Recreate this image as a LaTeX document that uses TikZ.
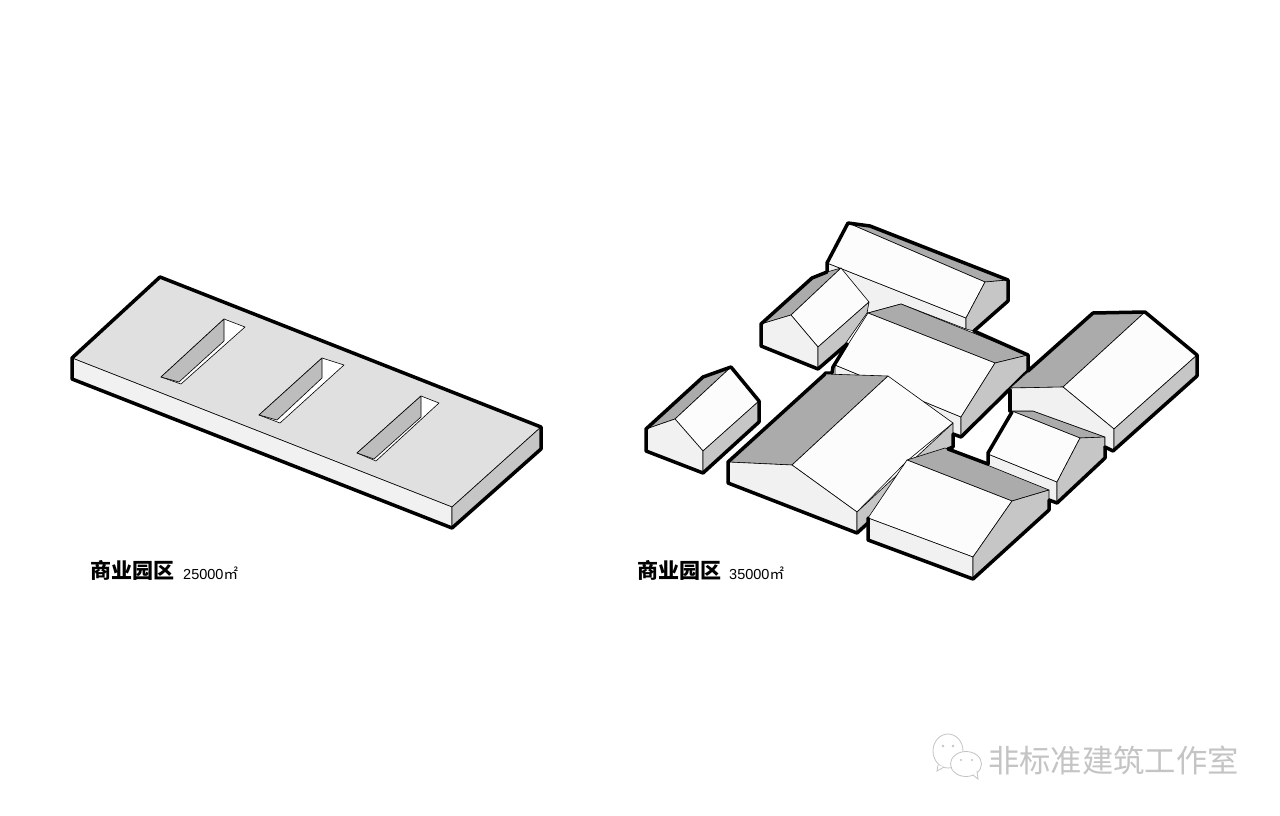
\documentclass[tikz,border=0pt]{standalone}
\usepackage{fontspec}
\usepackage{xcolor}
\usepackage{tikz}
\setmainfont{Liberation Sans}
\newfontfamily\cjk{Noto Sans CJK SC}
\definecolor{topgray}{HTML}{E0E0E0}
\definecolor{sidegray}{HTML}{C6C6C6}
\definecolor{darkgray}{HTML}{ABABAB}
\definecolor{wallgray}{HTML}{BDBDBD}
\definecolor{frontgray}{HTML}{F1F1F1}
\definecolor{roofwhite}{HTML}{FCFCFC}
\definecolor{markgray}{HTML}{C4C4C4}
\tikzset{
face/.style={draw=black,line width=0.6pt,line join=round},
heavy/.style={draw=black,line width=3.5pt,line join=round,line cap=round},
titlelabel/.style={anchor=west,inner sep=0pt,font=\cjk\bfseries\fontsize{21}{21}\selectfont},
arealabel/.style={anchor=west,inner sep=0pt,font=\fontsize{14.5}{14.5}\selectfont},
bubble/.style={draw=markgray,fill=white,line width=0.8pt},
}
\begin{document}
\begin{tikzpicture}[x=1pt,y=-1pt]
\useasboundingbox (0,0) rectangle (1280,816);
\fill[white](0,0) rectangle (1280,816);
\filldraw[face,fill=topgray](160,277)--(541,427)--(452,507)--(72,358)--cycle;
\filldraw[face,fill=frontgray](72,358)--(452,507)--(452,528)--(72,379)--cycle;
\filldraw[face,fill=sidegray](452,507)--(541,427)--(541,449)--(452,528)--cycle;
\draw[heavy](72,358)--(160,277)--(541,427)--(541,449)--(452,528)--(72,379)--cycle;
\filldraw[face,fill=white](224,319)--(245,327)--(181,384)--(161,377)--cycle;
\filldraw[face,fill=wallgray](224,319)--(224,341)--(179,382)--(161,377)--cycle;
\filldraw[face,fill=white](322,358)--(344,365)--(280,423)--(259,415)--cycle;
\filldraw[face,fill=wallgray](322,358)--(322,378)--(277,420)--(259,415)--cycle;
\filldraw[face,fill=white](421,396)--(439,403)--(376,461)--(357,453)--cycle;
\filldraw[face,fill=wallgray](421,396)--(421,417)--(374,459)--(357,453)--cycle;
\filldraw[face,fill=frontgray](827,263)--(966,318)--(966,329)--(901,304)--(868,313)--(827,272)--cycle;
\filldraw[face,fill=darkgray](848,223)--(870,226)--(1008,280)--(985,282)--cycle;
\filldraw[face,fill=roofwhite](848,223)--(985,282)--(966,318)--(827,263)--cycle;
\filldraw[face,fill=sidegray](985,282)--(1008,280)--(1008,301)--(974,331)--(966,329)--(966,318)--cycle;
\draw[heavy](827,272)--(827,263)--(848,223)--(870,226)--(1008,280)--(1008,301)--(974,331);
\filldraw[face,fill=frontgray](835,365)--(961,417)--(961,437)--(953,434)--(835,374)--cycle;
\filldraw[face,fill=darkgray](901,304)--(1028,355)--(995,363)--(868,313)--cycle;
\filldraw[face,fill=roofwhite](868,313)--(995,363)--(961,417)--(835,365)--cycle;
\filldraw[face,fill=sidegray](995,363)--(1028,355)--(1028,371)--(961,437)--(961,417)--cycle;
\draw[heavy](974,331)--(1028,355)--(1028,371)--(961,437)--(953,434);
\draw[heavy](847,344)--(833,367)--(832,373)--(825,373);
\filldraw[face,fill=darkgray](761,324)--(812,278)--(827,272)--(841,268)--(791,315)--cycle;
\filldraw[face,fill=roofwhite](791,315)--(841,268)--(869,302)--(818,347)--cycle;
\filldraw[face,fill=frontgray](761,324)--(791,315)--(818,347)--(818,368)--(761,346)--cycle;
\filldraw[face,fill=sidegray](818,347)--(869,302)--(867,313)--(843,347)--(818,368)--cycle;
\draw[heavy](827,272)--(812,278)--(761,324)--(761,346)--(818,369)--(847,344);
\filldraw[face,fill=darkgray](728,462)--(825,374)--(888,376)--(792,465)--cycle;
\filldraw[face,fill=roofwhite](792,465)--(888,376)--(953,423)--(907,461)--(857,512)--cycle;
\filldraw[face,fill=frontgray](728,462)--(792,465)--(857,512)--(857,533)--(728,483)--cycle;
\filldraw[face,fill=sidegray](857,512)--(953,423)--(953,447)--(868,523)--(857,533)--cycle;
\draw[heavy](825,374)--(728,462)--(728,483)--(857,533)--(868,523);
\draw[heavy](953,434)--(953,447)--(948,449);
\filldraw[face,fill=darkgray](646,429)--(703,377)--(731,367)--(675,419)--cycle;
\filldraw[face,fill=roofwhite](675,419)--(731,367)--(759,401)--(703,451)--cycle;
\filldraw[face,fill=frontgray](646,429)--(675,419)--(703,451)--(703,473)--(646,451)--cycle;
\filldraw[face,fill=sidegray](703,451)--(759,401)--(759,422)--(703,473)--cycle;
\draw[heavy](646,429)--(703,377)--(731,367)--(759,401)--(759,422)--(703,473)--(646,451)--cycle;
\filldraw[face,fill=frontgray](988,454)--(1057,482)--(1057,503)--(988,476)--cycle;
\filldraw[face,fill=darkgray](1012,411)--(1033,411)--(1105,437)--(1080,438)--cycle;
\filldraw[face,fill=roofwhite](1012,411)--(1080,438)--(1057,482)--(988,454)--cycle;
\filldraw[face,fill=sidegray](1080,438)--(1105,437)--(1105,458)--(1057,503)--(1057,482)--cycle;
\draw[heavy](1012,412)--(988,453)--(988,464);
\draw[heavy](1105,447)--(1105,458)--(1057,503)--(1049,500);
\filldraw[face,fill=darkgray](1010,388)--(1093,313)--(1145,312)--(1063,387)--cycle;
\filldraw[face,fill=roofwhite](1063,387)--(1145,312)--(1197,355)--(1114,429)--cycle;
\filldraw[face,fill=frontgray](1010,388)--(1063,387)--(1114,429)--(1114,450)--(1105,447)--(1105,437)--(1033,411)--(1011,411)--cycle;
\filldraw[face,fill=sidegray](1114,429)--(1197,355)--(1197,376)--(1114,450)--cycle;
\draw[heavy](1028,371)--(1093,313)--(1145,312)--(1197,355)--(1197,376)--(1113,451)--(1105,447);
\draw[heavy](1010,390)--(1010,411);
\filldraw[face,fill=darkgray](945,448)--(1049,490)--(1012,501)--(907,460)--cycle;
\filldraw[face,fill=roofwhite](907,460)--(1012,501)--(973,557)--(868,518)--cycle;
\filldraw[face,fill=frontgray](868,518)--(973,557)--(973,579)--(868,540)--cycle;
\filldraw[face,fill=sidegray](1012,501)--(1049,490)--(1049,510)--(973,579)--(973,557)--cycle;
\draw[heavy](948,449)--(988,464);
\draw[heavy](868,518)--(868,540)--(973,579)--(1049,510)--(1049,500);
\node[titlelabel](titleleft) at (90,570){商业园区};
\node[arealabel](arealeft) at (183,573){25000{\cjk ㎡}};
\node[titlelabel](titleright) at (637,570){商业园区};
\node[arealabel](arearight) at (729,573){35000{\cjk ㎡}};
\draw[bubble](948,751) ellipse (15 and 17);
\draw[bubble](938,765)--(937,771)--(944,767);
\draw[bubble](966,764) ellipse (15.5 and 12.5);
\draw[bubble](973,775)--(978,779)--(977,771);
\fill[markgray](943,746) circle (1.3) (953,746) circle (1.3) (961,760) circle (1.1) (972,760) circle (1.1);
\node[anchor=west,inner sep=0pt,text=markgray,font=\cjk\fontsize{31.3}{31.3}\selectfont](watermark) at (988,760){非标准建筑工作室};
\end{tikzpicture}
\end{document}
